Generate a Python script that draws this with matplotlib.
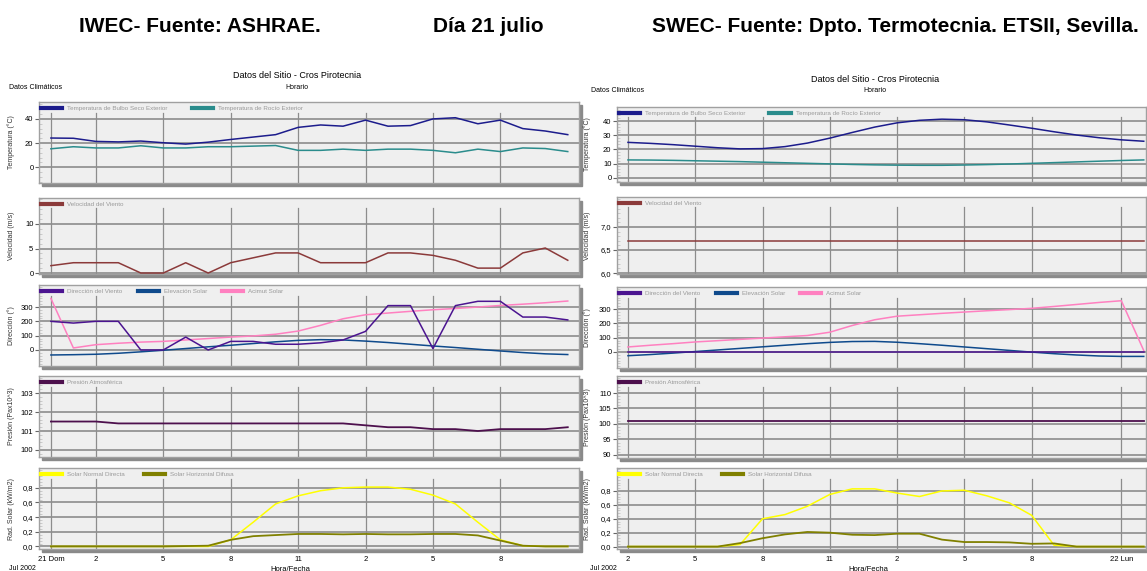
import matplotlib
matplotlib.use("Agg")
import matplotlib.pyplot as plt
from matplotlib.patches import Rectangle
from matplotlib.ticker import AutoMinorLocator

plt.rcParams['font.family'] = ['Liberation Sans Narrow', 'Liberation Sans', 'DejaVu Sans']

# hourly data, 21 July
hours_iwec = list(range(24))
hours_swec = list(range(2, 26))

# IWEC (ASHRAE)
tbs_iwec = [24.2, 24, 21.4, 21, 21.7, 20.3, 19.2, 20.8, 23, 25, 27, 33, 35, 34, 39, 34, 34.5, 40, 41, 36, 39, 32, 30, 27]
trocio_iwec = [15.3, 17, 16, 16, 17.8, 16, 16, 17, 17, 17.5, 18, 14, 14, 15, 14, 15, 15, 14, 12, 15, 13, 16, 15.5, 13]
viento_iwec = [1.5, 2.1, 2.1, 2.1, 0, 0, 2.1, 0, 2.1, 3.1, 4.1, 4.1, 2.1, 2.1, 2.1, 4.1, 4.1, 3.6, 2.6, 1, 1, 4.1, 5.1, 2.6]
dir_iwec = [200, 188, 200, 200, 0, 0, 90, 0, 60, 60, 40, 40, 50, 70, 130, 310, 310, 10, 310, 340, 340, 230, 230, 210]
elev_iwec = [-35, -33, -30, -23, -13, -2, 10, 22, 33, 45, 57, 67, 72, 70, 62, 52, 40, 28, 17, 5, -7, -18, -27, -32]
acim_iwec = [360, 14, 37, 47, 55, 60, 70, 80, 90, 98, 110, 132, 172, 218, 246, 258, 270, 281, 290, 300, 311, 320, 330, 342]
pres_iwec = [101.5, 101.5, 101.5, 101.4, 101.4, 101.4, 101.4, 101.4, 101.4, 101.4, 101.4, 101.4, 101.4, 101.4, 101.3, 101.2, 101.2, 101.1, 101.1, 101.0, 101.1, 101.1, 101.1, 101.2]
dni_iwec = [0, 0, 0, 0, 0, 0, 0, 0, 0.09, 0.33, 0.58, 0.69, 0.76, 0.80, 0.81, 0.81, 0.78, 0.70, 0.58, 0.33, 0.09, 0.01, 0, 0]
dif_iwec = [0, 0, 0, 0, 0, 0, 0.005, 0.01, 0.09, 0.14, 0.155, 0.17, 0.17, 0.165, 0.17, 0.165, 0.165, 0.17, 0.17, 0.15, 0.08, 0.01, 0, 0]

# SWEC (ETSII Sevilla)
tbs_swec = [25, 24.3, 23.4, 22.3, 21.2, 20.4, 20.6, 22, 24.5, 28, 32, 35.8, 38.8, 40.6, 41.4, 41, 39.5, 37.3, 35, 32.5, 30.2, 28.3, 26.8, 25.8]
trocio_swec = [12.6, 12.5, 12.3, 12, 11.7, 11.4, 11, 10.6, 10.2, 9.8, 9.4, 9.1, 8.9, 8.8, 8.8, 9, 9.3, 9.7, 10.2, 10.7, 11.2, 11.7, 12.2, 12.6]
viento_swec = [6.7] * 24
dir_swec = [0] * 24
elev_swec = [-26, -18, -8, 3, 14, 25, 36, 47, 58, 67, 73, 74, 68, 58, 47, 35, 23, 11, -1, -12, -21, -28, -31, -31]
acim_swec = [35, 47, 58, 70, 79, 88, 97, 106, 115, 138, 185, 225, 250, 260, 270, 279, 288, 296, 305, 318, 332, 346, 358, 10]
pres_swec = [100.8] * 24
dni_swec = [0, 0, 0, 0, 0, 0.03, 0.40, 0.46, 0.58, 0.75, 0.83, 0.83, 0.77, 0.72, 0.80, 0.81, 0.73, 0.63, 0.45, 0.02, 0, 0, 0, 0]
dif_swec = [0, 0, 0, 0, 0, 0.05, 0.12, 0.175, 0.21, 0.20, 0.17, 0.165, 0.185, 0.185, 0.10, 0.065, 0.065, 0.06, 0.04, 0.045, 0, 0, 0, 0]

xt_iwec = [0, 2, 5, 8, 11, 14, 17, 20]
xl_iwec = ['21 Dom', '2', '5', '8', '11', '2', '5', '8']
xt_swec = [2, 5, 8, 11, 14, 17, 20, 24]
xl_swec = ['2', '5', '8', '11', '2', '5', '8', '22 Lun']

C_TBS, C_ROCIO = '#1c1c8c', '#2a8c8c'
C_VIENTO = '#8b3a3a'
C_DIR, C_ELEV, C_ACIM = '#4b1490', '#0f4a8c', '#ff80c0'
C_PRES = '#4d104d'
C_DNI, C_DIF = '#ffff00', '#808000'

W, H = 1147, 571
fig = plt.figure(figsize=(W / 100, H / 100), dpi=100)


def panel(x0, x1, top, bottom, xlim, vlines):
    ax = fig.add_axes([x0 / W, 1 - bottom / H, (x1 - x0) / W, (bottom - top) / H])
    fig.patches.append(Rectangle(((x0 + 3) / W, 1 - (bottom + 3) / H), (x1 - x0) / W, (bottom - top) / H,
                                 transform=fig.transFigure, color='#8a8a8a', zorder=-1))
    ax.set_facecolor('#efefef')
    for s in ax.spines.values():
        s.set_color('#a0a0a0')
        s.set_linewidth(1)
    ax.set_xlim(xlim)
    ax.set_xticks(vlines)
    ax.tick_params(axis='x', length=0, labelbottom=False)
    for x in vlines:
        ax.axvline(x, ymin=0, ymax=0.87, color='#8c8c8c', lw=0.9, zorder=1)
    return ax


def yaxis(ax, ticks, labels, ylim, label, lx):
    ax.set_ylim(ylim)
    ax.set_yticks(ticks)
    ax.set_yticklabels(labels)
    ax.yaxis.set_minor_locator(AutoMinorLocator(5))
    ax.tick_params(axis='y', which='major', length=3, width=0.8, color='#666666', labelsize=5.5, pad=1)
    ax.tick_params(axis='y', which='minor', length=2, width=0.5, color='#bbbbbb', direction='in')
    for y in ticks:
        ax.axhline(y, color='#8c8c8c', lw=1.2, zorder=1)
    ax.set_ylabel(label, fontsize=5, color='#333333')
    ax.yaxis.set_label_coords(lx, 0.5)


def legend(ax, lines, spacing, top_px):
    leg = ax.legend(handles=lines, loc='center left', bbox_to_anchor=(0.004, 1 - 6 / top_px), ncol=len(lines),
                    frameon=False, fontsize=4.5, handlelength=3.4, handletextpad=0.8,
                    columnspacing=spacing, borderpad=0, borderaxespad=0, labelcolor='#9a9a9a')
    for h in leg.legend_handles:
        h.set_linewidth(3)


def chart(x0, x1, rows, xlim, hours, xt, xl, d, lx):
    ax1 = panel(x0, x1, *rows[0], xlim, xt)
    l1, = ax1.plot(hours, d['tbs'], color=C_TBS, lw=1.1, zorder=3, label='Temperatura de Bulbo Seco Exterior')
    l2, = ax1.plot(hours, d['rocio'], color=C_ROCIO, lw=1.1, zorder=3, label='Temperatura de Rocío Exterior')
    yaxis(ax1, *d['y1'], 'Temperatura (°C)', lx)
    legend(ax1, [l1, l2], 3.8, rows[0][1] - rows[0][0])

    ax2 = panel(x0, x1, *rows[1], xlim, xt)
    l1, = ax2.plot(hours, d['viento'], color=C_VIENTO, lw=1.1, zorder=3, label='Velocidad del Viento')
    yaxis(ax2, *d['y2'], 'Velocidad (m/s)', lx)
    legend(ax2, [l1], 2.4, rows[1][1] - rows[1][0])

    ax3 = panel(x0, x1, *rows[2], xlim, xt)
    l1, = ax3.plot(hours, d['dir'], color=C_DIR, lw=1.1, zorder=4, label='Dirección del Viento')
    l2, = ax3.plot(hours, d['elev'], color=C_ELEV, lw=1.1, zorder=3, label='Elevación Solar')
    l3, = ax3.plot(hours, d['acim'], color=C_ACIM, lw=1.1, zorder=3, label='Acimut Solar')
    yaxis(ax3, [0, 100, 200, 300], ['0', '100', '200', '300'], (-112, 454), 'Dirección (°)', lx)
    legend(ax3, [l1, l2, l3], 2.4, rows[2][1] - rows[2][0])

    ax4 = panel(x0, x1, *rows[3], xlim, xt)
    l1, = ax4.plot(hours, d['pres'], color=C_PRES, lw=1.3, zorder=3, label='Presión Atmosférica')
    yaxis(ax4, *d['y4'], 'Presión (Pax10^3)', lx)
    legend(ax4, [l1], 2.4, rows[3][1] - rows[3][0])

    ax5 = panel(x0, x1, *rows[4], xlim, xt)
    l1, = ax5.plot(hours, d['dni'], color=C_DNI, lw=1.1, zorder=3, label='Solar Normal Directa')
    l2, = ax5.plot(hours, d['dif'], color=C_DIF, lw=1.3, zorder=3, label='Solar Horizontal Difusa')
    yaxis(ax5, [0, 0.2, 0.4, 0.6, 0.8], ['0,0', '0,2', '0,4', '0,6', '0,8'], d['y5'], 'Rad. Solar (kW/m2)', lx)
    legend(ax5, [l1, l2], 3.0, rows[4][1] - rows[4][0])
    ax5.set_xticklabels(xl)
    ax5.tick_params(axis='x', labelbottom=True, labelsize=5.5, pad=5)


iwec = dict(tbs=tbs_iwec, rocio=trocio_iwec, viento=viento_iwec, dir=dir_iwec, elev=elev_iwec,
            acim=acim_iwec, pres=pres_iwec, dni=dni_iwec, dif=dif_iwec,
            y1=([0, 20, 40], ['0', '20', '40'], (-13, 54)),
            y2=([0, 5, 10], ['0', '5', '10'], (-0.2, 15.3)),
            y4=([100, 101, 102, 103], ['100', '101', '102', '103'], (99.63, 103.9)),
            y5=(-0.035, 1.07))
swec = dict(tbs=tbs_swec, rocio=trocio_swec, viento=viento_swec, dir=dir_swec, elev=elev_swec,
            acim=acim_swec, pres=pres_swec, dni=dni_swec, dif=dif_swec,
            y1=([0, 10, 20, 30, 40], ['0', '10', '20', '30', '40'], (-3, 50)),
            y2=([6.0, 6.5, 7.0], ['6,0', '6,5', '7,0'], (5.98, 7.65)),
            y4=([90, 95, 100, 105, 110], ['90', '95', '100', '105', '110'], (89, 115.5)),
            y5=(-0.035, 1.13))

rows_iwec = [(102, 183), (198, 274), (285, 366), (376, 457), (468, 549)]
rows_swec = [(107, 182), (197, 274), (287, 368), (376, 458), (468, 549)]

chart(39, 579, rows_iwec, (-0.53, 23.5), hours_iwec, xt_iwec, xl_iwec, iwec, -0.044)
chart(617, 1146, rows_swec, (1.51, 25.1), hours_swec, xt_swec, xl_swec, swec, -0.05)

# headings
hdr = dict(fontsize=15, fontweight='bold', ha='center', va='center')
fig.text(200 / W, 1 - 26 / H, 'IWEC- Fuente: ASHRAE.', **hdr)
fig.text(488 / W, 1 - 26 / H, 'Día 21 julio', **hdr)
fig.text(895 / W, 1 - 26 / H, 'SWEC- Fuente: Dpto. Termotecnia. ETSII, Sevilla.', **hdr)

for cx, ty, lx_ in [(297, 76, 9), (875, 79, 591)]:
    fig.text(cx / W, 1 - ty / H, 'Datos del Sitio - Cros Pirotecnia', fontsize=6.5, ha='center', va='center')
    fig.text(cx / W, 1 - (ty + 12) / H, 'Horario', fontsize=5, ha='center', va='center')
    fig.text(lx_ / W, 1 - (ty + 12) / H, 'Datos Climáticos', fontsize=5, ha='left', va='center')

for jx, hx in [(9, 290), (590, 868)]:
    fig.text(jx / W, 1 - 568 / H, 'Jul 2002', fontsize=5, ha='left', va='center')
    fig.text(hx / W, 1 - 566 / H, 'Hora/Fecha', fontsize=5.5, ha='center', va='top')

fig.savefig('out.png', dpi=100, facecolor='white')
